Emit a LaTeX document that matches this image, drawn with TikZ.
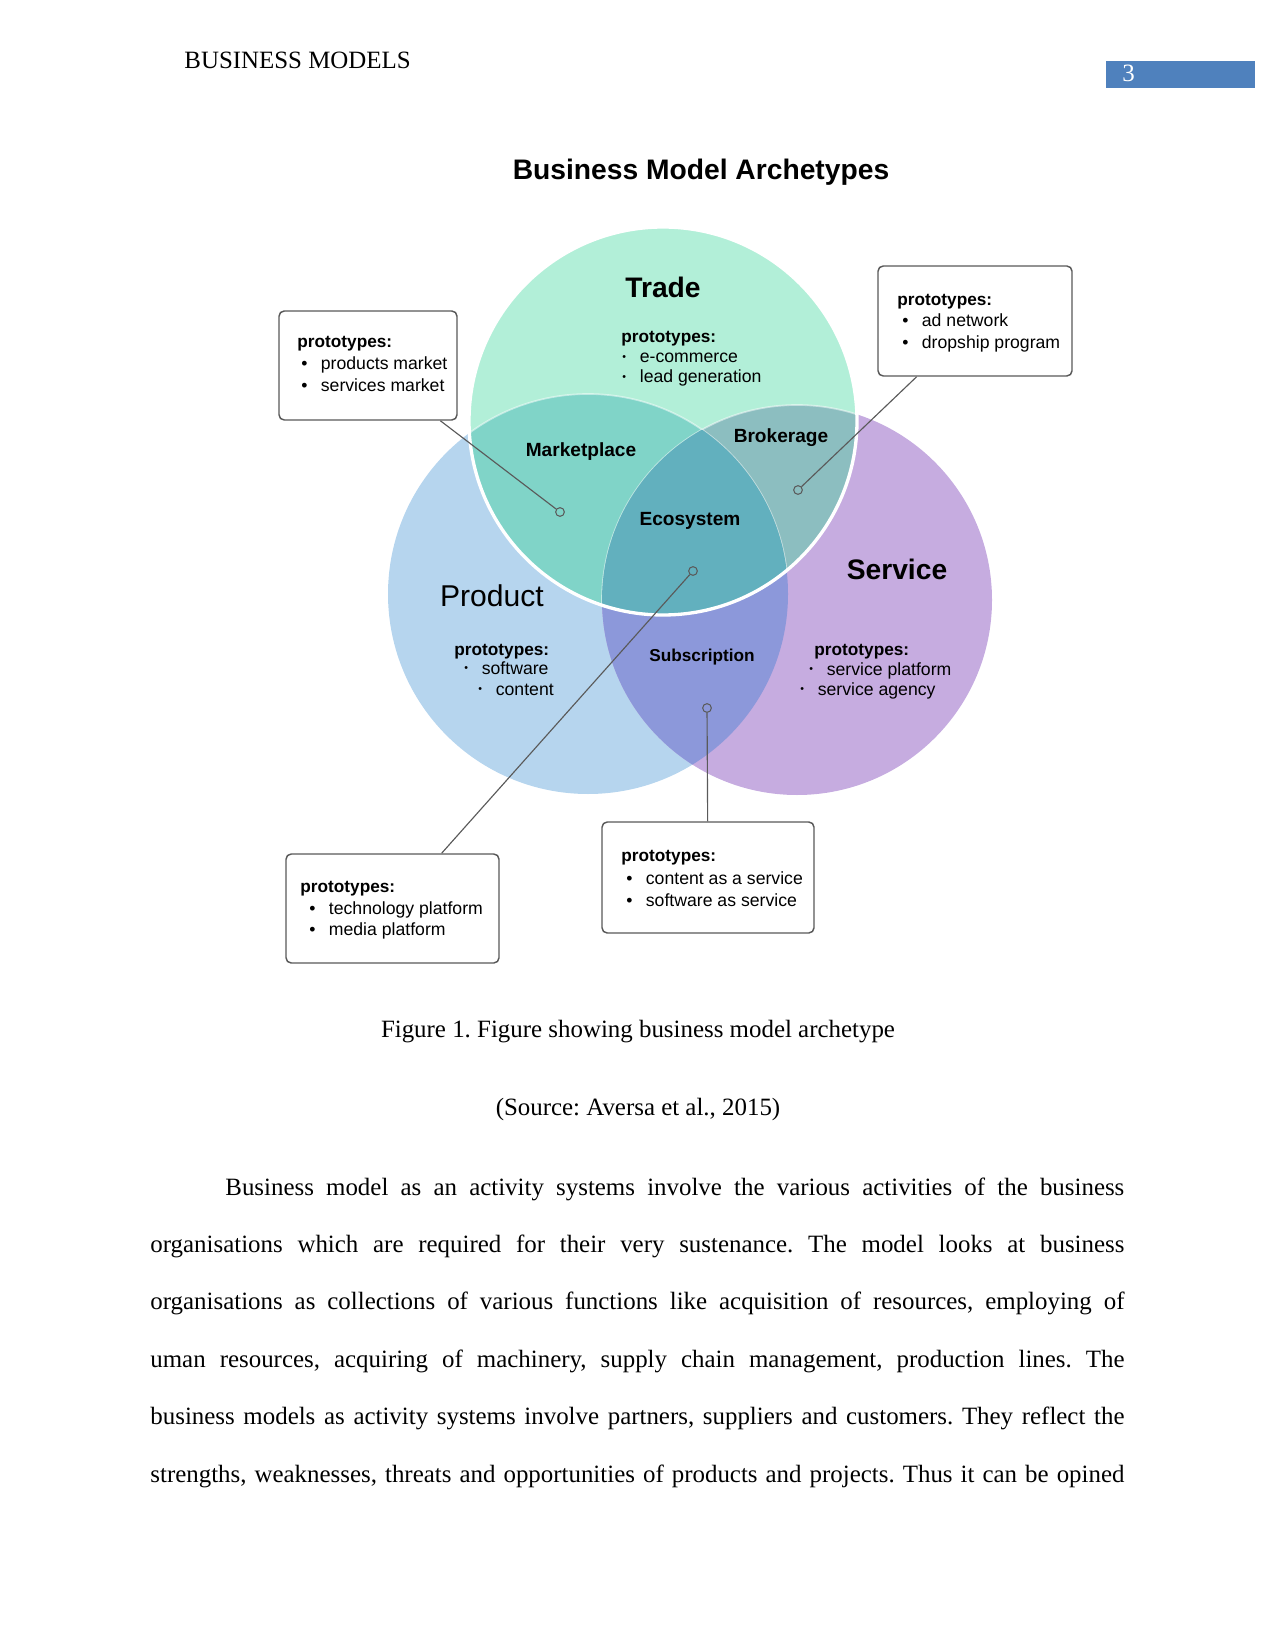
\documentclass[tikz,border=0pt]{standalone}
\usepackage{fontspec}
\setmainfont{Liberation Serif}
\newfontfamily\diagfont{Liberation Sans}
\usepackage{tikz}
\usetikzlibrary{positioning, fit, backgrounds}
\definecolor{wordblue}{RGB}{79,129,189}
\definecolor{tradecol}{RGB}{178,239,216}
\definecolor{prodcol}{RGB}{182,213,238}
\definecolor{servcol}{RGB}{198,172,224}
\definecolor{marketcol}{RGB}{128,212,200}
\definecolor{brokercol}{RGB}{140,190,192}
\definecolor{ecocol}{RGB}{98,176,190}
\definecolor{subcol}{RGB}{140,152,218}
\definecolor{leadgray}{RGB}{90,90,90}
\newcommand{\bl}{\makebox[9.4pt][l]{\textbullet}}
\newcommand{\sbl}{\makebox[8.4pt][l]{\raisebox{1.2pt}{\scalebox{0.6}{\textbullet}}}}
\frenchspacing

\begin{document}
\begin{tikzpicture}[
    x=0.4818pt, y=-0.4818pt,
    body/.style={font=\fontsize{12}{14}\selectfont, inner sep=0, anchor=base west},
    title node/.style={font=\diagfont\bfseries\fontsize{13.6}{16}\selectfont, inner sep=0, anchor=base},
    big node/.style={font=\diagfont\bfseries\fontsize{13.6}{16}\selectfont, inner sep=0, anchor=base},
    region node/.style={font=\diagfont\bfseries\fontsize{9.2}{11}\selectfont, inner sep=0, anchor=base},
    proto head/.style={font=\diagfont\bfseries\fontsize{8.3}{10}\selectfont, inner sep=0, anchor=base west},
    proto item/.style={font=\diagfont\fontsize{8.5}{10}\selectfont, inner sep=0, anchor=base west},
    protobox/.style={rectangle, rounded corners=2.5pt, draw=gray!70!black, line width=0.7pt, fill=white, inner sep=0},
    dotmark/.style={circle, draw=leadgray, line width=0.5pt, inner sep=0, minimum size=4.2pt},
    leader/.style={draw=leadgray, line width=0.55pt}
]
\useasboundingbox (0,0) rectangle (1275,1650);

% Header
\node[body] (header) at (184,69) {BUSINESS MODELS};
\node[fill=wordblue, fit={(1106,61) (1255,88)}, inner sep=0] (pagebox) {};
\node[body, text=white] (pagenum) at (1122,82) {3};

% Title
\node[title node] (title) at (701,180) {Business Model Archetypes};

% Circles
\coordinate (tradeC) at (663,421);
\coordinate (prodC) at (588,594);
\coordinate (servC) at (797,600);

\fill[prodcol] (prodC) circle (200);
\fill[servcol] (servC) circle (195);
\begin{scope}
  \clip (prodC) circle (200);
  \fill[subcol] (servC) circle (195);
\end{scope}
\fill[tradecol] (tradeC) circle (194);
\begin{scope}
  \clip (tradeC) circle (194);
  \fill[marketcol] (prodC) circle (200);
  \fill[brokercol] (servC) circle (195);
  \draw[white, opacity=0.5, line width=0.8pt] (prodC) circle (200);
  \draw[white, opacity=0.5, line width=0.8pt] (servC) circle (195);
  \clip (prodC) circle (200);
  \fill[ecocol] (servC) circle (195);
\end{scope}
\draw[white, line width=1.6pt] (tradeC) circle (194);

% Circle labels
\node[big node] (trade) at (663,298) {Trade};
\node[big node] (service) at (897,579) {Service};
\node[font=\diagfont\fontsize{14.5}{17}\selectfont, inner sep=0, anchor=base] (product) at (492,606) {Product};
\node[region node] (market) at (581,457) {Marketplace};
\node[region node] (broker) at (781,443) {Brokerage};
\node[region node] (eco) at (690,525) {Ecosystem};
\node[region node, font=\diagfont\bfseries\fontsize{8.3}{10}\selectfont] (subscr) at (702,661) {Subscription};

% Prototypes inside circles
\node[proto head] (tradeHead) at (621,343) {prototypes:};
\node[proto item] (tradeI1) at (622,363) {\sbl e-commerce};
\node[proto item] (tradeI2) at (622,383) {\sbl lead generation};

\node[proto head] (prodHead) at (454,655) {prototypes:};
\node[proto item] (prodI1) at (464,674) {\sbl software};
\node[proto item] (prodI2) at (478,695) {\sbl content};

\node[proto head] (servHead) at (814,655) {prototypes:};
\node[proto item] (servI1) at (809,675) {\sbl service platform};
\node[proto item] (servI2) at (800,695) {\sbl service agency};

% Callout boxes
\node[protobox, fit={(279,311) (457,420)}] (boxA) {};
\node[protobox, fit={(878,266) (1072,376)}] (boxB) {};
\node[protobox, fit={(286,854) (499,963)}] (boxC) {};
\node[protobox, fit={(602,822) (814,933)}] (boxD) {};

\node[proto head] (aHead) at (297,348) {prototypes:};
\node[proto item] (aI1) at (301,370) {\bl products market};
\node[proto item] (aI2) at (301,392) {\bl services market};

\node[proto head] (bHead) at (897,306) {prototypes:};
\node[proto item] (bI1) at (902,327) {\bl ad network};
\node[proto item] (bI2) at (902,349) {\bl dropship program};

\node[proto head] (cHead) at (300,892) {prototypes:};
\node[proto item] (cI1) at (309,914) {\bl technology platform};
\node[proto item] (cI2) at (309,935) {\bl media platform};

\node[proto head] (dHead) at (621,861) {prototypes:};
\node[proto item] (dI1) at (626,884) {\bl content as a service};
\node[proto item] (dI2) at (626,906) {\bl software as service};

% Leaders
\node[dotmark] (dotA) at (560,512) {};
\node[dotmark] (dotB) at (798,490) {};
\node[dotmark] (dotC) at (693,571) {};
\node[dotmark] (dotD) at (707,708) {};
\draw[leader] (boxA) -- (dotA);
\draw[leader] (boxB) -- (dotB);
\draw[leader] (boxC) -- (dotC);
\draw[leader] (boxD) -- (dotD);

% Caption
\node[body, anchor=base] (caption) at (638,1037) {Figure 1. Figure showing business model archetype};
\node[body, anchor=base] (source) at (638,1115) {(Source: Aversa et al., 2015)};

% Body text
\node[body] (line1) at (225,1195) {\makebox[433.1pt][s]{Business model as an activity systems involve the various activities of the business}};
\node[body] (line2) at (150,1252.4) {\makebox[469.3pt][s]{organisations which are required for their very sustenance. The model looks at business}};
\node[body] (line3) at (150,1309.8) {\makebox[469.3pt][s]{organisations as collections of various functions like acquisition of resources, employing of}};
\node[body] (line4) at (150,1367.2) {\makebox[469.3pt][s]{uman resources, acquiring of machinery, supply chain management, production lines. The}};
\node[body] (line5) at (150,1424.6) {\makebox[469.3pt][s]{business models as activity systems involve partners, suppliers and customers. They reflect the}};
\node[body] (line6) at (150,1482) {\makebox[469.3pt][s]{strengths, weaknesses, threats and opportunities of products and projects. Thus it can be opined}};

\end{tikzpicture}
\end{document}
